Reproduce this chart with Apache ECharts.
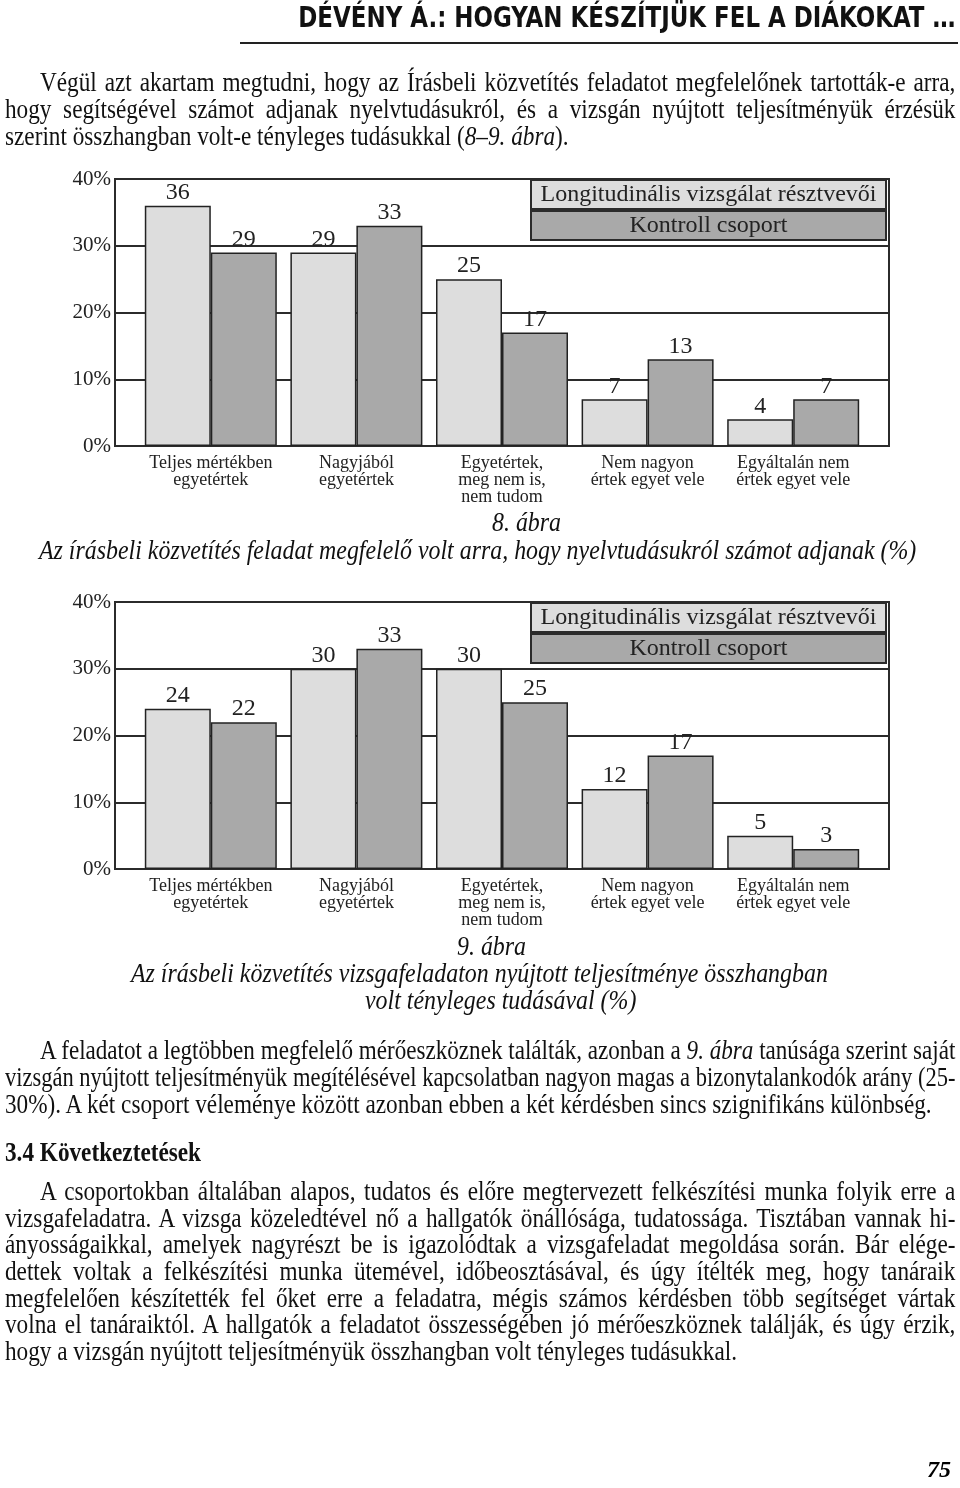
<!DOCTYPE html>
<html>
<head>
<meta charset="utf-8">
<script src="https://cdn.jsdelivr.net/npm/echarts@6/dist/echarts.min.js"></script>
<style>
html, body { margin: 0; padding: 0; background: #fff; }
#page { position: relative; width: 960px; height: 1488px; overflow: hidden; }
#chart { position: absolute; left: 0; top: 0; width: 960px; height: 1488px; }
.ln { position: absolute; font-family: "Liberation Serif", "Times New Roman", serif; font-size: 27px; line-height: 27px; color: #111; transform-origin: 0 0; white-space: nowrap; }
.jus { text-align: justify; text-align-last: justify; }
.cap { font-style: italic; }
#head { position: absolute; right: 5px; top: 3px; font-family: "Liberation Sans Narrow", "DejaVu Sans Condensed", "Liberation Sans", sans-serif; font-weight: bold; font-size: 29px; line-height: 29px; white-space: nowrap; color: #111; transform-origin: 100% 0; }
#rule { position: absolute; left: 240px; top: 42px; width: 718px; height: 2px; background: #222; }
</style>
</head>
<body>
<div id="page">
  <div id="chart"></div>

  <div id="head" data-fit="657">DÉVÉNY Á.: HOGYAN KÉSZÍTJÜK FEL A DIÁKOKAT …</div>
  <div id="rule"></div>

  <div class="ln jus" data-x="40" style="top:69px">Végül azt akartam megtudni, hogy az Írásbeli közvetítés feladatot megfelelőnek tartották-e arra,</div>
  <div class="ln jus" data-x="5" style="top:96px">hogy segítségével számot adjanak nyelvtudásukról, és a vizsgán nyújtott teljesítményük érzésük</div>
  <div class="ln" data-x="5" style="top:123px">szerint összhangban volt-e tényleges tudásukkal (<i>8–9. ábra</i>).</div>

  <div class="ln cap" data-c="527" style="top:509px">8. ábra</div>
  <div class="ln cap" data-c="478" style="top:537px">Az írásbeli közvetítés feladat megfelelő volt arra, hogy nyelvtudásukról számot adjanak (%)</div>

  <div class="ln cap" data-c="492" style="top:933px">9. ábra</div>
  <div class="ln cap" data-c="479" style="top:960px">Az írásbeli közvetítés vizsgafeladaton nyújtott teljesítménye összhangban</div>
  <div class="ln cap" data-c="501" style="top:987px">volt tényleges tudásával (%)</div>

  <div class="ln jus" data-x="40" style="top:1037px">A feladatot a legtöbben megfelelő mérőeszköznek találták, azonban a <i>9. ábra</i> tanúsága szerint saját</div>
  <div class="ln jus" data-x="5" style="top:1064px">vizsgán nyújtott teljesítményük megítélésével kapcsolatban nagyon magas a bizonytalankodók arány (25-</div>
  <div class="ln" data-x="5" style="top:1091px">30%). A két csoport véleménye között azonban ebben a két kérdésben sincs szignifikáns különbség.</div>

  <div class="ln" data-x="5" style="top:1139px"><b>3.4 Következtetések</b></div>

  <div class="ln jus" data-x="40" style="top:1178px">A csoportokban általában alapos, tudatos és előre megtervezett felkészítési munka folyik erre a</div>
  <div class="ln jus" data-x="5" style="top:1205px">vizsgafeladatra. A vizsga közeledtével nő a hallgatók önállósága, tudatossága. Tisztában vannak hi-</div>
  <div class="ln jus" data-x="5" style="top:1231px">ányosságaikkal, amelyek nagyrészt be is igazolódtak a vizsgafeladat megoldása során. Bár elége-</div>
  <div class="ln jus" data-x="5" style="top:1258px">dettek voltak a felkészítési munka ütemével, időbeosztásával, és úgy ítélték meg, hogy tanáraik</div>
  <div class="ln jus" data-x="5" style="top:1285px">megfelelően készítették fel őket erre a feladatra, mégis számos kérdésben több segítséget vártak</div>
  <div class="ln jus" data-x="5" style="top:1311px">volna el tanáraiktól. A hallgatók a feladatot összességében jó mérőeszköznek találják, és úgy érzik,</div>
  <div class="ln" data-x="5" style="top:1338px">hogy a vizsgán nyújtott teljesítményük összhangban volt tényleges tudásukkal.</div>

  <div style="position:absolute;left:927px;top:1457px;font-family:'Liberation Serif',serif;font-weight:bold;font-style:italic;font-size:24px;line-height:24px">75</div>
</div>

<script>
// adatok
const categories = [
  'Teljes mértékben\negyetértek',
  'Nagyjából\negyetértek',
  'Egyetértek,\nmeg nem is,\nnem tudom',
  'Nem nagyon\nértek egyet vele',
  'Egyáltalán nem\nértek egyet vele'
];
const seriesNames = ['Longitudinális vizsgálat résztvevői', 'Kontroll csoport'];
const fig8Longitudinal = [36, 29, 25, 7, 4];
const fig8Control = [29, 33, 17, 13, 7];
const fig9Longitudinal = [24, 30, 30, 12, 5];
const fig9Control = [22, 33, 25, 17, 3];
const yMax = 40;
const yStep = 10;

const serif = 'Liberation Serif';
const ink = '#2b2b2b';
const lightGrey = '#dddddd';
const darkGrey = '#a9a9a9';

const figures = [
  { top: 179, data: [fig8Longitudinal, fig8Control] },
  { top: 602, data: [fig9Longitudinal, fig9Control] }
];

const grid = [], xAxis = [], yAxis = [], series = [], legend = [];

figures.forEach((fig, k) => {
  const frame = k * 2, bars = k * 2 + 1;
  // keret + vízszintes vonalak
  grid.push({ left: 115, top: fig.top, width: 774, height: 267, show: true, borderColor: ink, borderWidth: 2 });
  // oszlopok
  grid.push({ left: 138, top: fig.top, width: 728, height: 267 });

  xAxis.push({ gridIndex: frame, type: 'value', show: false, min: 0, max: 1 });
  xAxis.push({
    gridIndex: bars, type: 'category', data: categories,
    axisLine: { show: false }, axisTick: { show: false },
    axisLabel: { interval: 0, margin: 9, fontFamily: serif, fontSize: 18, lineHeight: 17, color: '#222' }
  });

  yAxis.push({
    gridIndex: frame, type: 'value', min: 0, max: yMax, interval: yStep,
    axisLine: { show: true, lineStyle: { color: ink, width: 2 } },
    axisTick: { show: false },
    axisLabel: { formatter: '{value}%', margin: 4, fontFamily: serif, fontSize: 21, color: '#222' },
    splitLine: { show: true, lineStyle: { color: ink, width: 2 } }
  });
  yAxis.push({ gridIndex: bars, type: 'value', min: 0, max: yMax, show: false });

  fig.data.forEach((values, i) => {
    series.push({
      name: seriesNames[i],
      type: 'bar',
      xAxisIndex: bars,
      yAxisIndex: bars,
      data: values,
      barWidth: 66,
      barGap: '0%',
      animation: false,
      itemStyle: { color: i === 0 ? lightGrey : darkGrey, borderColor: '#222', borderWidth: 1.5 },
      label: { show: true, position: 'top', distance: 1, fontFamily: serif, fontSize: 24, color: '#222' }
    });
  });

  legend.push({
    top: fig.top, left: 527, orient: 'vertical', padding: 0, itemGap: 0,
    icon: 'none', itemWidth: 0, itemHeight: 29, selectedMode: false,
    data: seriesNames,
    formatter: n => (n === seriesNames[0] ? '{a|' : '{b|') + n + '}',
    textStyle: {
      rich: {
        a: { width: 353, height: 27, lineHeight: 27, align: 'center', backgroundColor: lightGrey, borderColor: ink, borderWidth: 2, fontFamily: serif, fontSize: 24, color: '#222' },
        b: { width: 353, height: 27, lineHeight: 27, align: 'center', backgroundColor: darkGrey, borderColor: ink, borderWidth: 2, fontFamily: serif, fontSize: 24, color: '#222' }
      }
    }
  });
});

const chart = echarts.init(document.getElementById('chart'), null, { renderer: 'canvas' });
chart.setOption({ backgroundColor: 'transparent', animation: false, grid, xAxis, yAxis, series, legend });

// fejléc szélesség illesztése
document.querySelectorAll('[data-fit]').forEach(el => {
  const w = el.getBoundingClientRect().width;
  el.style.transform = 'scaleX(' + (el.dataset.fit / w) + ')';
});

// szövegsorok: keskenyített betű, sorkizárás
const squeeze = 0.86;
const capSqueeze = 0.885;
document.querySelectorAll('.ln').forEach(el => {
  const natural = el.offsetWidth;
  if (el.dataset.c) {
    el.style.left = (el.dataset.c - natural * capSqueeze / 2) + 'px';
    el.style.transform = 'scaleX(' + capSqueeze + ')';
  } else if (el.classList.contains('jus')) {
    const x = +el.dataset.x, w = 955 - x;
    const s = Math.min(squeeze, w / natural);
    el.style.left = x + 'px';
    el.style.whiteSpace = 'normal';
    el.style.width = (w / s + 0.5) + 'px';
    el.style.transform = 'scaleX(' + s + ')';
  } else {
    el.style.left = el.dataset.x + 'px';
    el.style.transform = 'scaleX(' + squeeze + ')';
  }
});
</script>
</body>
</html>
